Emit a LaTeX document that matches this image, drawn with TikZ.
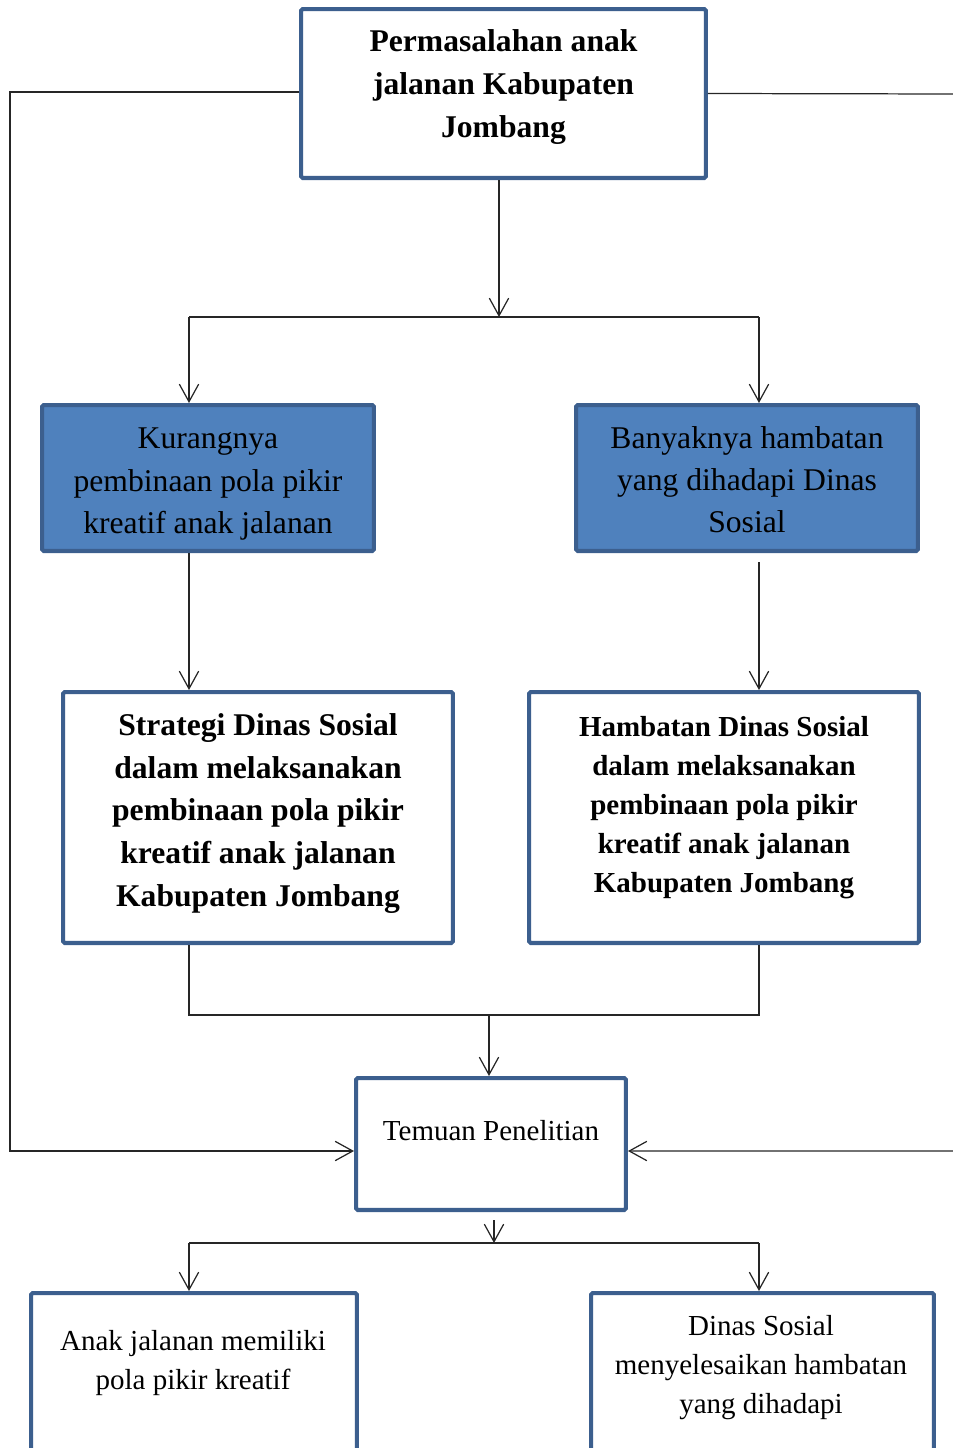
\documentclass[tikz,border=0pt]{standalone}
\usepackage{fontspec}
\setmainfont{Liberation Serif}
\usetikzlibrary{arrows.meta}
\definecolor{boxline}{RGB}{60,95,142}
\definecolor{boxfill}{RGB}{79,129,189}
\tikzset{
  box/.style={draw=boxline, line width=2.3pt, rounded corners=1pt, fill=white},
  bluebox/.style={box, fill=boxfill},
  bigbold/.style={align=center, font=\fontsize{18}{24.2}\selectfont\bfseries},
  smallbold/.style={align=center, font=\fontsize{16.5}{22.2}\selectfont\bfseries},
  bigtxt/.style={align=center, font=\fontsize{18}{24}\selectfont},
  smalltxt/.style={align=center, font=\fontsize{16.5}{22.2}\selectfont},
  link/.style={line width=0.7pt, draw=black!85},
  arr/.style={link, -{Straight Barb[length=10pt,width=11pt]}}
}
\begin{document}
\begin{tikzpicture}[x=0.02cm, y=-0.02cm]
                \useasboundingbox (0,0) rectangle (953,1448);
                % Boxes
                \node[box, minimum width=8.1cm, minimum height=3.38cm] (top) at (503.5,93.5) {};
                \node[bluebox, minimum width=6.64cm, minimum height=2.92cm] (kurang) at (208,478) {};
                \node[bluebox, minimum width=6.84cm, minimum height=2.92cm] (banyak) at (747,478) {};
                \node[box, minimum width=7.8cm, minimum height=5.02cm] (strategi) at (258,817.5) {};
                \node[box, minimum width=7.8cm, minimum height=5.02cm] (hambatan) at (724,817.5) {};
                \node[box, minimum width=5.4cm, minimum height=2.64cm] (temuan) at (491,1144) {};
                \node[box, minimum width=6.52cm, minimum height=3.54cm] (anak) at (194,1381.5) {};
                \node[box, minimum width=6.86cm, minimum height=3.54cm] (dinas) at (762.5,1381.5) {};
                % Texts
                \node[bigbold] (ttop) at (503.5,87) {Permasalahan anak\\jalanan Kabupaten\\Jombang};
                \node[bigtxt] (tkurang) at (208,484) {Kurangnya\\pembinaan pola pikir\\kreatif anak jalanan};
                \node[bigtxt] (tbanyak) at (747,480) {Banyaknya hambatan\\yang dihadapi Dinas\\Sosial};
                \node[bigbold] (tstrategi) at (258,813.5) {Strategi Dinas Sosial\\dalam melaksanakan\\pembinaan pola pikir\\kreatif anak jalanan\\Kabupaten Jombang};
                \node[smallbold] (thambatan) at (724,808) {Hambatan Dinas Sosial\\dalam melaksanakan\\pembinaan pola pikir\\kreatif anak jalanan\\Kabupaten Jombang};
                \node[smalltxt] (ttemuan) at (491,1131) {Temuan Penelitian};
                \node[smalltxt] (tanak) at (193,1363) {Anak jalanan memiliki\\pola pikir kreatif};
                \node[smalltxt] (tdinas) at (761,1368) {Dinas Sosial\\menyelesaikan hambatan\\yang dihadapi};
                % Junctions
                \coordinate (j1) at (499,317);
                \coordinate (jl) at (189,317);
                \coordinate (jr) at (759,317);
                \coordinate (rs) at (759,562);
                \coordinate (ml) at (189,1015);
                \coordinate (mr) at (759,1015);
                \coordinate (mc) at (489,1015);
                \coordinate (fl) at (10,92);
                \coordinate (fr) at (960,94);
                \coordinate (tin) at (0,1151);
                \coordinate (b1) at (494,1220);
                \coordinate (b2) at (494,1243);
                \coordinate (bl) at (189,1243);
                \coordinate (br) at (759,1243);
                % Top split
                \draw[arr] (top.south -| j1) -- (j1);
                \draw[link] (jl) -- (jr);
                \draw[arr] (jl) -- (jl |- kurang.north);
                \draw[arr] (jr) -- (jr |- banyak.north);
                \draw[arr] (jl |- kurang.south) -- (jl |- strategi.north);
                \draw[arr] (rs) -- (rs |- hambatan.north);
                % Merge to findings
                \draw[link] (ml |- strategi.south) -- (ml) -- (mr) -- (mr |- hambatan.south);
                \draw[arr] (mc) -- (mc |- temuan.north);
                % Feedback lines
                \draw[arr] (top.west |- fl) -- (fl) -- (fl |- tin) -- (tin -| temuan.west);
                \draw[arr] (top.east) -- (fr) -- (fr |- tin) -- (tin -| temuan.east);
                % Bottom split
                \draw[arr] (b1) -- (b2);
                \draw[link] (bl) -- (br);
                \draw[arr] (bl) -- (bl |- anak.north);
                \draw[arr] (br) -- (br |- dinas.north);
\end{tikzpicture}
\end{document}
